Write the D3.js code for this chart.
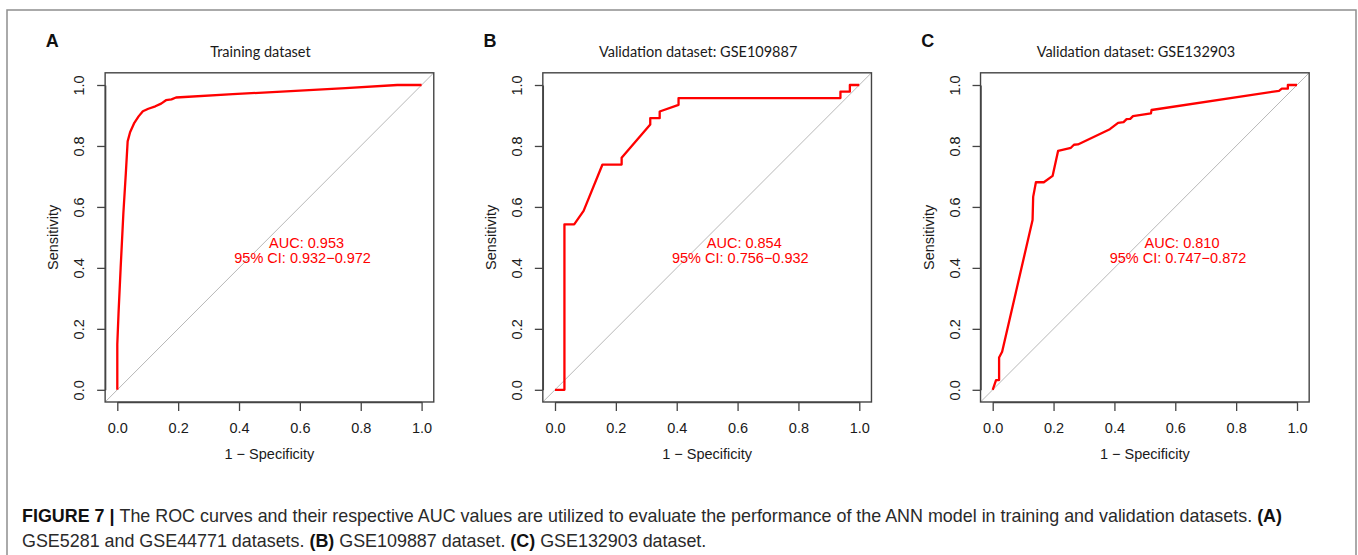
<!DOCTYPE html>
<html>
<head>
<meta charset="utf-8">
<script src="https://cdn.jsdelivr.net/npm/d3@7"></script>
<style>
  body { margin: 0; background: #fff; }
  svg { display: block; }
</style>
</head>
<body>
<svg id="fig" width="1358" height="555"></svg>
<script>
// ---- data (x = 1 - specificity, y = sensitivity) ----
var panelLetters = ["A", "B", "C"];
var panelTitles = ["Training dataset", "Validation dataset: GSE109887", "Validation dataset: GSE132903"];

var trainFpr  = [0, 0, 0.004, 0.011, 0.02, 0.028, 0.034, 0.042, 0.056, 0.070, 0.084, 0.102, 0.125, 0.144, 0.160, 0.178, 0.193, 0.38, 0.57, 0.75, 0.92, 1.0];
var trainSens = [0, 0.15, 0.25, 0.40, 0.58, 0.71, 0.815, 0.845, 0.876, 0.897, 0.914, 0.922, 0.930, 0.939, 0.950, 0.953, 0.959, 0.970, 0.980, 0.990, 1.0, 1.0];

var gse109887Fpr  = [0, 0.031, 0.031, 0.063, 0.094, 0.156, 0.219, 0.219, 0.313, 0.313, 0.344, 0.344, 0.406, 0.406, 0.938, 0.938, 0.969, 0.969, 1.0];
var gse109887Sens = [0, 0, 0.543, 0.543, 0.587, 0.739, 0.739, 0.761, 0.870, 0.891, 0.891, 0.913, 0.935, 0.957, 0.957, 0.978, 0.978, 1.0, 1.0];

var gse132903Fpr  = [0, 0.011, 0.021, 0.021, 0.031, 0.131, 0.133, 0.142, 0.168, 0.197, 0.215, 0.257, 0.267, 0.280, 0.385, 0.412, 0.430, 0.440, 0.452, 0.461, 0.520, 0.522, 0.941, 0.950, 0.970, 0.970, 1.0];
var gse132903Sens = [0, 0.032, 0.032, 0.106, 0.125, 0.557, 0.633, 0.681, 0.681, 0.702, 0.784, 0.794, 0.804, 0.805, 0.855, 0.876, 0.878, 0.888, 0.889, 0.898, 0.907, 0.918, 0.981, 0.988, 0.988, 1.0, 1.0];

var aucLines = [
  ["AUC: 0.953", "95% CI: 0.932\u22120.972"],
  ["AUC: 0.854", "95% CI: 0.756\u22120.932"],
  ["AUC: 0.810", "95% CI: 0.747\u22120.872"]
];
var tickValues = [0, 0.2, 0.4, 0.6, 0.8, 1.0];

var curves = [
  [trainFpr, trainSens],
  [gse109887Fpr, gse109887Sens],
  [gse132903Fpr, gse132903Sens]
];

// ---- layout ----
var svg = d3.select("#fig");
var panelX0 = [117.3, 555, 992.7];   // pixel of x = 0 in each panel
var plotW = 304.3;
var yTop = 85, yBottom = 389.8;
var axisFont = "'Liberation Sans', Arial, sans-serif";

// outer frame
svg.append("path")
  .attr("d", "M7,570V10H1356V570")
  .attr("fill", "none")
  .attr("stroke", "#8f8f8f")
  .attr("stroke-width", 1.5);

panelLetters.forEach(function(letter, i) {
  var x = d3.scaleLinear().domain([0, 1]).range([panelX0[i], panelX0[i] + plotW]);
  var y = d3.scaleLinear().domain([0, 1]).range([yBottom, yTop]);
  var g = svg.append("g");

  var bx0 = x(-0.04), bx1 = x(1.04), by0 = y(1.04), by1 = y(-0.04);

  // panel letter
  g.append("text")
    .attr("x", panelX0[i] - 65).attr("y", 47)
    .attr("text-anchor", "middle")
    .style("font", "bold 18px " + axisFont)
    .attr("fill", "#111")
    .text(letter);

  // title
  g.append("text")
    .attr("x", (x(0) + x(1)) / 2 - 9).attr("y", 57)
    .attr("text-anchor", "middle")
    .style("font-family", "Lato, 'Open Sans', sans-serif")
    .style("font-size", "14.5px")
    .attr("fill", "#1a1a1a")
    .text(panelTitles[i]);

  // diagonal reference line
  g.append("line")
    .attr("x1", x(-0.04)).attr("y1", y(-0.04))
    .attr("x2", x(1.04)).attr("y2", y(1.04))
    .attr("stroke", "#b8b8b8").attr("stroke-width", 1);

  // ROC curve
  var fpr = curves[i][0], sens = curves[i][1];
  var pts = fpr.map(function(v, k) { return [v, sens[k]]; });
  g.append("path")
    .datum(pts)
    .attr("fill", "none")
    .attr("stroke", "#ff0000")
    .attr("stroke-width", 2.3)
    .attr("stroke-linejoin", "round")
    .attr("d", d3.line().x(function(d) { return x(d[0]); }).y(function(d) { return y(d[1]); }));

  // box
  g.append("rect")
    .attr("x", bx0).attr("y", by0)
    .attr("width", bx1 - bx0).attr("height", by1 - by0)
    .attr("fill", "none").attr("stroke", "#444").attr("stroke-width", 1.4);

  // x axis
  var xAxis = g.append("g")
    .attr("transform", "translate(0," + by1 + ")")
    .call(d3.axisBottom(x).tickValues(tickValues).tickFormat(d3.format(".1f"))
      .tickSize(9).tickSizeOuter(0).tickPadding(12));
  xAxis.select(".domain").attr("stroke", "#444").attr("stroke-width", 1.4);
  xAxis.selectAll(".tick line").attr("stroke", "#444").attr("stroke-width", 1.3);
  xAxis.selectAll("text").style("font", "14.5px " + axisFont).attr("fill", "#1a1a1a");

  // y axis
  var yAxis = g.append("g")
    .attr("transform", "translate(" + bx0 + ",0)")
    .call(d3.axisLeft(y).tickValues(tickValues).tickFormat(d3.format(".1f"))
      .tickSize(8).tickSizeOuter(0));
  yAxis.select(".domain").attr("stroke", "#444").attr("stroke-width", 1.4);
  yAxis.selectAll(".tick line").attr("stroke", "#444").attr("stroke-width", 1.3);
  yAxis.selectAll("text")
    .attr("transform", "rotate(-90)")
    .attr("x", 0).attr("y", -21).attr("dy", 0)
    .attr("text-anchor", "middle")
    .style("font", "14.5px " + axisFont).attr("fill", "#1a1a1a");

  // axis titles
  g.append("text")
    .attr("x", (x(0) + x(1)) / 2).attr("y", 459)
    .attr("text-anchor", "middle")
    .style("font", "14.5px " + axisFont).attr("fill", "#1a1a1a")
    .text("1 \u2212 Specificity");
  g.append("text")
    .attr("transform", "translate(" + (bx0 - 47) + "," + ((yTop + yBottom) / 2) + ") rotate(-90)")
    .attr("text-anchor", "middle")
    .style("font", "14.5px " + axisFont).attr("fill", "#1a1a1a")
    .text("Sensitivity");

  // AUC annotation
  g.append("text")
    .attr("x", x(0.622)).attr("y", y(0.466))
    .attr("text-anchor", "middle")
    .style("font", "14.5px " + axisFont).attr("fill", "#ff0000")
    .text(aucLines[i][0]);
  g.append("text")
    .attr("x", x(0.609)).attr("y", y(0.416))
    .attr("text-anchor", "middle")
    .style("font", "14.5px " + axisFont).attr("fill", "#ff0000")
    .text(aucLines[i][1]);
});

// caption
var caption = [
  [["FIGURE 7 | ", true], ["The ROC curves and their respective AUC values are utilized to evaluate the performance of the ANN model in training and validation datasets. ", false], ["(A)", true]],
  [["GSE5281 and GSE44771 datasets. ", false], ["(B)", true], [" GSE109887 dataset. ", false], ["(C)", true], [" GSE132903 dataset.", false]]
];
var capBase = [522, 546.5];
caption.forEach(function(line, li) {
  var t = svg.append("text")
    .attr("x", 22).attr("y", capBase[li])
    .style("font-family", "'Liberation Sans', Arial, sans-serif")
    .style("font-size", "17.9px")
    .attr("fill", "#2a2a2a");
  line.forEach(function(part) {
    t.append("tspan")
      .style("font-weight", part[1] ? "bold" : "normal")
      .attr("fill", part[1] ? "#111" : "#2a2a2a")
      .text(part[0]);
  });
});
</script>
</body>
</html>
